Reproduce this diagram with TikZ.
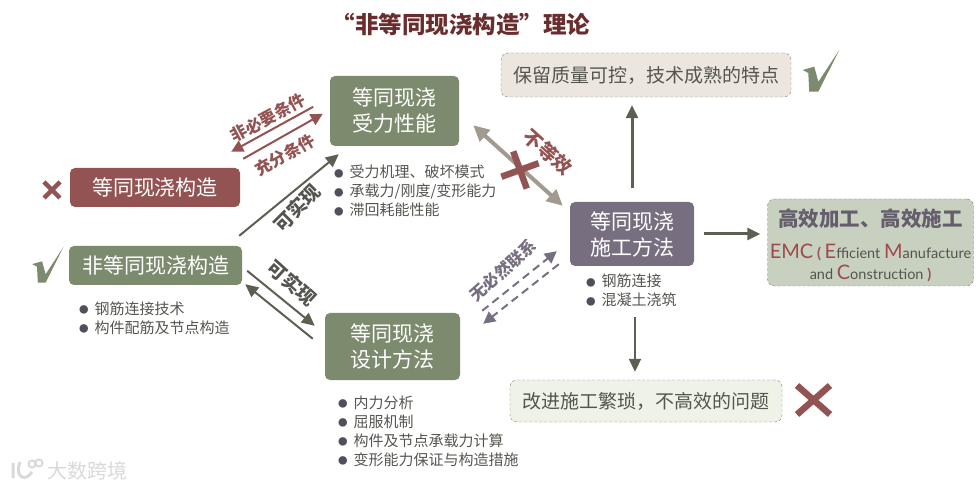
\documentclass[tikz,border=0pt]{standalone}
\usepackage{xcolor}
\usepackage{fontspec}
\setmainfont{Noto Sans CJK SC}
\newfontfamily\emcfont{Lato}
\usetikzlibrary{arrows.meta, shapes.misc, positioning}
\definecolor{emcred}{RGB}{147, 83, 83}
\definecolor{emcgreen}{RGB}{124, 138, 110}
\definecolor{emcpurple}{RGB}{119, 111, 128}
\definecolor{titlered}{RGB}{105, 45, 45}
\definecolor{arrowgray}{RGB}{94, 94, 82}
\definecolor{doublegray}{RGB}{160, 154, 144}
\definecolor{textgray}{RGB}{85, 85, 80}
\definecolor{dotgray}{RGB}{80, 80, 90}
\definecolor{notebeige}{RGB}{236, 230, 222}
\definecolor{notepale}{RGB}{239, 242, 230}
\definecolor{notegreen}{RGB}{200, 208, 192}
\newcommand{\lstdot}{\textcolor{dotgray}{\raisebox{0.5pt}{\fontsize{9.5}{9.5}\selectfont ●}}\hspace{6pt}}
\newcommand{\emcbig}[1]{\textcolor{emcred!90!red}{\fontsize{20}{20}\selectfont #1}}
\tikzset{
  mainbox/.style={rounded corners=5pt, inner sep=0pt, text=white, align=center,
                  font=\fontsize{21}{26}\selectfont},
  notebox/.style={draw=gray, densely dashed, rounded corners=7pt, inner sep=0pt, align=center,
                  text=textgray, font=\fontsize{19}{24}\selectfont},
  itemlist/.style={anchor=west, inner sep=0pt, align=left, text=textgray,
                   font=\fontsize{15}{19}\selectfont},
  sidelabel/.style={inner sep=0pt, font=\fontsize{16.5}{20}\selectfont\bfseries},
  thinarrow/.style={-{Triangle[length=13pt, width=12pt]}, arrowgray, line width=2pt},
  redarrow/.style={-{Triangle[length=12pt, width=12pt]}, emcred, line width=2pt},
  dasharrow/.style={-{Triangle[length=12pt, width=12pt]}, emcpurple, line width=2pt,
                    dash pattern=on 8pt off 5pt},
  crossmark/.style={cross out, draw=emcred, inner sep=0pt, outer sep=0pt},
  pics/okmark/.style={code={
    \fill[emcgreen] (-14.8,-0.9) -- (-4.9,-3.7) -- (-1.4,9.2) -- (16.5,-18) -- (-1.4,17.7)
                    -- (-9.2,17.7) -- (-10,1.7) -- cycle;}}
}
\begin{document}
\begin{tikzpicture}[x=1pt, y=-1pt]
  \useasboundingbox (0,0) rectangle (978,489);
  \node[text=titlered, inner sep=0pt, font=\fontsize{23.5}{28}\selectfont\bfseries] (title) at (461,24)
       {“非等同现浇构造”理论};

  \node[mainbox, fill=emcred, minimum width=170pt, minimum height=39pt] (same) at (155,187.5) {等同现浇构造};
  \node[mainbox, fill=emcgreen, minimum width=173pt, minimum height=39pt] (nonsame) at (155.5,265.5) {非等同现浇构造};
  \node[mainbox, fill=emcgreen, minimum width=129pt, minimum height=70pt] (perf) at (394.5,111) {等同现浇\\受力性能};
  \node[mainbox, fill=emcgreen, minimum width=135pt, minimum height=67pt] (design) at (392.5,346.5) {等同现浇\\设计方法};
  \node[mainbox, fill=emcpurple, minimum width=124pt, minimum height=64pt] (constr) at (632,234) {等同现浇\\施工方法};

  \node[notebox, fill=notebeige, minimum width=290pt, minimum height=44pt] (keep) at (646,75) {保留质量可控，技术成熟的特点};
  \node[notebox, fill=notepale, minimum width=272pt, minimum height=42pt] (improve) at (646,401) {改进施工繁琐，不高效的问题};
  \node[notebox, fill=notegreen, minimum width=206pt, minimum height=87pt] (emc) at (870.5,242.5) {};
  \node[inner sep=0pt, text=emcpurple!85!black, font=\fontsize{20.5}{24}\selectfont\bfseries] (emctitle) at (870.5,219) {高效加工、高效施工};
  \node[inner sep=0pt, text=textgray, align=center, font=\emcfont\fontsize{14.5}{21}\selectfont] (emctext) at (870.5,263)
       {\emcbig{EMC} \textcolor{emcred}{\textbf{(}} \emcbig{E}fficient \emcbig{M}anufacture\\and \emcbig{C}onstruction \textcolor{emcred}{\textbf{)}}};

  \node[itemlist] (nonsamelist) at (79,318) {\lstdot 钢筋连接技术\\\lstdot 构件配筋及节点构造};
  \node[itemlist] (perflist) at (334,191) {\lstdot 受力机理、破坏模式\\\lstdot 承载力/刚度/变形能力\\\lstdot 滞回耗能性能};
  \node[itemlist] (designlist) at (338,431) {\lstdot 内力分析\\\lstdot 屈服机制\\\lstdot 构件及节点承载力计算\\\lstdot 变形能力保证与构造措施};
  \node[itemlist] (constrlist) at (586,290.5) {\lstdot 钢筋连接\\\lstdot 混凝土浇筑};

  \draw[redarrow] ([shift={(-146,31)}]perf.north east) -- ([shift={(-228,76)}]perf.north east);
  \draw[redarrow] ([shift={(3,-9)}]same.north east) -- ([shift={(-7,38)}]perf.north west);
  \draw[thinarrow] ([shift={(-3,-10)}]nonsame.north east) -- ([shift={(9,8)}]perf.south west);
  \draw[thinarrow] ([shift={(5,25)}]nonsame.north east) -- ([shift={(-10,13)}]design.north west);
  \draw[thinarrow] ([shift={(-12,26)}]design.north west) -- ([shift={(3,-1)}]nonsame.south east);
  \draw[{Triangle[length=16pt, width=15pt]}-{Triangle[length=16pt, width=15pt]}, doublegray, line width=4pt]
       ([shift={(14,-21)}]perf.south east) -- ([shift={(-7,4)}]constr.north west);
  \draw[dasharrow] ([shift={(22,-2)}]design.north east) -- ([shift={(-13,-15)}]constr.south west);
  \draw[dasharrow] ([shift={(-11,-2)}]constr.south west) -- ([shift={(23,11)}]design.north east);
  \draw[thinarrow, line width=3pt] ([yshift=14pt]constr.north) -- ([xshift=-14pt, yshift=-8pt]keep.south);
  \draw[thinarrow] ([xshift=3pt, yshift=-10pt]constrlist.south -| constr.south) -- ([xshift=-11pt, yshift=8pt]improve.north);
  \draw[thinarrow, line width=3pt] ([xshift=10pt]constr.east) -- ([xshift=-7pt]emc.west |- constr.east);

  \node[sidelabel, text=emcred, rotate=28] (notneeded) at (268,118) {非必要条件};
  \node[sidelabel, text=emcred, rotate=30] (enough) at (285,155) {充分条件};
  \node[sidelabel, text=textgray, font=\fontsize{19}{22}\selectfont\bfseries, rotate=45] (canreach) at (297,208) {可实现};
  \node[sidelabel, text=textgray, font=\fontsize{19}{22}\selectfont\bfseries, rotate=-42] (canback) at (292,283) {可实现};
  \node[sidelabel, text=emcred, font=\fontsize{19}{22}\selectfont\bfseries, rotate=-42] (noteq) at (548,152) {不等效};
  \node[sidelabel, text=emcpurple, rotate=42] (nolink) at (503,270) {无必然联系};

  \node[crossmark, line width=4.5pt, minimum size=16pt] (crossleft) at (52,190) {};
  \node[crossmark, line width=6.5pt, minimum size=28pt, rotate=65] (crossmid) at (520,170) {};
  \node[crossmark, line width=6.5pt, minimum width=33pt, minimum height=29pt] (crossright) at (813.5,400) {};
  \pic at (47,265) {okmark};
  \pic[scale=1.17] at (820,71) {okmark};

  \node[inner sep=0pt, text=black!15, font=\fontsize{20}{22}\selectfont] (mark) at (87.5,471) {大数跨境};
  \draw[black!15, line width=2pt] (32,464) circle (3.5) (39,463) circle (3.5);
  \draw[black!15, line width=3pt] (13,463) -- (13,478) (20,462) .. controls (14,478) and (26,482) .. (32,472);
\end{tikzpicture}
\end{document}
